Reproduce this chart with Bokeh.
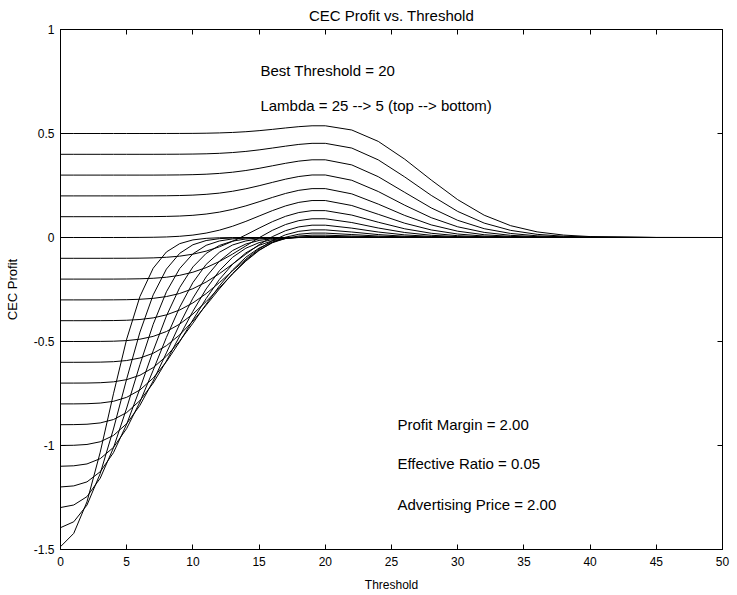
from bokeh.plotting import figure
from bokeh.models import Range1d, LinearAxis, FixedTicker, Label
from bokeh.embed import file_html
from bokeh.resources import INLINE

# ---------------- data ----------------
threshold = [0, 1, 2, 3, 4, 5, 6, 7, 8, 9, 10, 11, 12, 13, 14, 15, 16, 17, 18, 19, 20,
             22, 24, 26, 28, 30, 32, 34, 36, 38, 40, 45, 50]

lambdas = [25, 24, 23, 22, 21, 20, 19, 18, 17, 16, 15, 14, 13, 12, 11, 10, 9, 8, 7, 6, 5]

profit_l25 = [0.5, 0.5, 0.5, 0.5, 0.5, 0.5, 0.5, 0.5, 0.5001, 0.5003, 0.5006, 0.5014, 0.5028, 0.5051, 0.5086,
              0.5136, 0.5198, 0.5266, 0.5329, 0.5371, 0.5371,
              0.5168, 0.4621, 0.3765, 0.2763, 0.1819, 0.1072, 0.0568, 0.027, 0.0116, 0.0045, 0.0003, 0.0]
profit_l24 = [0.4, 0.4, 0.4, 0.4, 0.4, 0.4, 0.4, 0.4, 0.4002, 0.4005, 0.4012, 0.4024, 0.4047, 0.4085, 0.4139,
              0.4212, 0.43, 0.4392, 0.4475, 0.4527, 0.4527,
              0.43, 0.3732, 0.2911, 0.2025, 0.1254, 0.0692, 0.0342, 0.0152, 0.0061, 0.0022, 0.0001, 0.0]
profit_l23 = [0.3, 0.3, 0.3, 0.3, 0.3, 0.3, 0.3, 0.3, 0.3004, 0.3009, 0.3021, 0.3043, 0.3081, 0.3139, 0.3221,
              0.3325, 0.3446, 0.3568, 0.3672, 0.3735, 0.3735,
              0.349, 0.2923, 0.217, 0.1423, 0.0825, 0.0424, 0.0194, 0.008, 0.0029, 0.001, 0.0, 0.0]
profit_l22 = [0.2, 0.2, 0.2, 0.2, 0.2, 0.2, 0.2, 0.2003, 0.2007, 0.2017, 0.2038, 0.2075, 0.2134, 0.2223, 0.2343,
              0.2489, 0.2649, 0.2805, 0.2932, 0.3006, 0.3006,
              0.2751, 0.2211, 0.1552, 0.0953, 0.0514, 0.0245, 0.0104, 0.0039, 0.0013, 0.0004, 0.0, 0.0]
profit_l21 = [0.1, 0.1, 0.1, 0.1, 0.1, 0.1, 0.1002, 0.1005, 0.1014, 0.1032, 0.1067, 0.1127, 0.122, 0.1352, 0.1521,
              0.1719, 0.1926, 0.2118, 0.2268, 0.235, 0.235,
              0.2098, 0.1606, 0.106, 0.0606, 0.0303, 0.0133, 0.0052, 0.0018, 0.0005, 0.0001, 0.0, 0.0]
profit_l20 = [0.0, 0.0, 0.0, 0.0, 0.0, 0.0001, 0.0004, 0.0011, 0.0026, 0.0058, 0.0116, 0.0212, 0.0353, 0.0542, 0.0775,
              0.1033, 0.1291, 0.1519, 0.1688, 0.1777, 0.1777,
              0.1538, 0.1115, 0.0686, 0.0363, 0.0167, 0.0067, 0.0024, 0.0008, 0.0002, 0.0, 0.0, 0.0]
profit_l19 = [-0.1, -0.1, -0.1, -0.1, -0.0999, -0.0998, -0.0993, -0.098, -0.0951, -0.0897, -0.0802, -0.0655, -0.0448,
              -0.0183, 0.0125, 0.0451, 0.076, 0.1019, 0.1201, 0.1292, 0.1292,
              0.1078, 0.0734, 0.0418, 0.0203, 0.0086, 0.0031, 0.001, 0.0003, 0.0001, 0.0, 0.0, 0.0]
profit_l18 = [-0.2, -0.2, -0.2, -0.2, -0.1999, -0.1995, -0.1985, -0.1961, -0.1911, -0.1819, -0.1669, -0.1449, -0.1154,
              -0.0797, -0.0404, -0.0011, 0.0343, 0.0624, 0.0811, 0.09, 0.09,
              0.0719, 0.0456, 0.024, 0.0107, 0.0042, 0.0015, 0.0005, 0.0001, 0.0, 0.0, 0.0, 0.0]
profit_l17 = [-0.3, -0.3, -0.3, -0.3, -0.2997, -0.299, -0.297, -0.2926, -0.284, -0.2692, -0.2462, -0.2142, -0.1739,
              -0.1278, -0.0798, -0.0345, 0.004, 0.0329, 0.0511, 0.0592, 0.0592,
              0.045, 0.0263, 0.0126, 0.0051, 0.0018, 0.0005, 0.0002, 0.0, 0.0, 0.0, 0.0, 0.0]
profit_l16 = [-0.4, -0.4, -0.4, -0.3998, -0.3993, -0.3979, -0.3942, -0.3864, -0.372, -0.3486, -0.3145, -0.2699, -0.217,
              -0.16, -0.1042, -0.0546, -0.0149, 0.0131, 0.0297, 0.0367, 0.0367,
              0.0263, 0.014, 0.006, 0.0022, 0.0007, 0.0002, 0.0, 0.0, 0.0, 0.0, 0.0, 0.0]
profit_l15 = [-0.5, -0.5, -0.4999, -0.4996, -0.4986, -0.4957, -0.4889, -0.4754, -0.4521, -0.4165, -0.3679, -0.3082,
              -0.2419, -0.175, -0.1135, -0.0623, -0.0239, 0.0015, 0.0157, 0.0212, 0.0212,
              0.0142, 0.0069, 0.0027, 0.0009, 0.0002, 0.0001, 0.0, 0.0, 0.0, 0.0, 0.0, 0.0]
profit_l14 = [-0.6, -0.6, -0.5998, -0.5992, -0.5971, -0.5915, -0.5793, -0.5567, -0.5202, -0.4681, -0.4018, -0.3259,
              -0.2471, -0.1729, -0.1094, -0.0599, -0.0253, -0.0039, 0.0072, 0.0113, 0.0113,
              0.007, 0.003, 0.001, 0.0003, 0.0001, 0.0, 0.0, 0.0, 0.0, 0.0, 0.0, 0.0]
profit_l13 = [-0.7, -0.6999, -0.6996, -0.6982, -0.6939, -0.6834, -0.6622, -0.6256, -0.5707, -0.4981, -0.4122, -0.3209,
              -0.2329, -0.1559, -0.0947, -0.0505, -0.0217, -0.0052, 0.0027, 0.0054, 0.0054,
              0.0031, 0.0012, 0.0004, 0.0001, 0.0, 0.0, 0.0, 0.0, 0.0, 0.0, 0.0, 0.0]
profit_l12 = [-0.8, -0.7999, -0.7991, -0.796, -0.7876, -0.7684, -0.7328, -0.676, -0.5973, -0.5012, -0.3964, -0.2935,
              -0.202, -0.1281, -0.0738, -0.0376, -0.0159, -0.0044, 0.0008, 0.0024, 0.0024,
              0.0012, 0.0004, 0.0001, 0.0, 0.0, 0.0, 0.0, 0.0, 0.0, 0.0, 0.0, 0.0]
profit_l11 = [-0.9, -0.8996, -0.8978, -0.8915, -0.8752, -0.8416, -0.7841, -0.7001, -0.5936, -0.4742, -0.3548, -0.2474,
              -0.1598, -0.095, -0.0514, -0.0247, -0.01, -0.0029, 0.0, 0.0008, 0.0008,
              0.0004, 0.0001, 0.0, 0.0, 0.0, 0.0, 0.0, 0.0, 0.0, 0.0, 0.0, 0.0]
profit_l10 = [-0.9999, -0.999, -0.995, -0.9821, -0.9518, -0.8951, -0.8068, -0.6897, -0.5546, -0.417, -0.2918, -0.1895,
              -0.1137, -0.0626, -0.0314, -0.014, -0.0053, -0.0015, -0.0001, 0.0003, 0.0003,
              0.0001, 0.0, 0.0, 0.0, 0.0, 0.0, 0.0, 0.0, 0.0, 0.0, 0.0, 0.0]
profit_l9 = [-1.0998, -1.0976, -1.0887, -1.0632, -1.0092, -0.9181, -0.7906, -0.6383, -0.4802, -0.3353, -0.2167, -0.1294,
             -0.0712, -0.0359, -0.0165, -0.0068, -0.0024, -0.0007, -0.0001, 0.0, 0.0,
             0.0, 0.0, 0.0, 0.0, 0.0, 0.0, 0.0, 0.0, 0.0, 0.0, 0.0, 0.0]
profit_l8 = [-1.1993, -1.1942, -1.1749, -1.1262, -1.0346, -0.8972, -0.7262, -0.5448, -0.3773, -0.2408, -0.1415, -0.0766,
             -0.0381, -0.0173, -0.0072, -0.0027, -0.0009, -0.0002, 0.0, 0.0, 0.0,
             0.0, 0.0, 0.0, 0.0, 0.0, 0.0, 0.0, 0.0, 0.0, 0.0, 0.0, 0.0]
profit_l7 = [-1.2982, -1.286, -1.2458, -1.1572, -1.0113, -0.8197, -0.6111, -0.4174, -0.2609, -0.1494, -0.0784, -0.0377,
             -0.0167, -0.0067, -0.0025, -0.0008, -0.0002, 0.0, 0.0, 0.0, 0.0,
             0.0, 0.0, 0.0, 0.0, 0.0, 0.0, 0.0, 0.0, 0.0, 0.0, 0.0, 0.0]
profit_l6 = [-1.395, -1.3668, -1.2865, -1.1348, -0.9206, -0.6797, -0.4548, -0.2758, -0.1519, -0.0762, -0.0349, -0.0146,
             -0.0056, -0.0021, -0.0006, -0.0002, 0.0, 0.0, 0.0, 0.0, 0.0,
             0.0, 0.0, 0.0, 0.0, 0.0, 0.0, 0.0, 0.0, 0.0, 0.0, 0.0, 0.0]
profit_l5 = [-1.4865, -1.4225, -1.2709, -1.0323, -0.7515, -0.4883, -0.2836, -0.1478, -0.0695, -0.0296, -0.0115, -0.0041,
             -0.0013, -0.0004, 0.0, 0.0, 0.0, 0.0, 0.0, 0.0, 0.0,
             0.0, 0.0, 0.0, 0.0, 0.0, 0.0, 0.0, 0.0, 0.0, 0.0, 0.0, 0.0]

profits = [profit_l25, profit_l24, profit_l23, profit_l22, profit_l21, profit_l20, profit_l19,
           profit_l18, profit_l17, profit_l16, profit_l15, profit_l14, profit_l13, profit_l12,
           profit_l11, profit_l10, profit_l9, profit_l8, profit_l7, profit_l6, profit_l5]

x_ticks = [0, 5, 10, 15, 20, 25, 30, 35, 40, 45, 50]
y_ticks = [-1.5, -1.0, -0.5, 0.0, 0.5, 1.0]
y_tick_labels = ["-1.5", "-1", "-0.5", "0", "0.5", "1"]

title_text = "CEC Profit vs. Threshold"
x_label = "Threshold"
y_label = "CEC Profit"
notes_top = ["Best Threshold = 20", "Lambda = 25 --> 5 (top --> bottom)"]
notes_bottom = ["Profit Margin = 2.00", "Effective Ratio = 0.05", "Advertising Price = 2.00"]

# ---------------- figure ----------------
FONT = "Liberation Sans"

p = figure(width=736, height=594, x_range=Range1d(0, 50), y_range=Range1d(-1.5, 1),
           output_backend="svg", toolbar_location=None,
           min_border_left=60, min_border_right=14, min_border_top=29, min_border_bottom=45)

p.title.text = title_text
p.title.align = "center"
p.title.vertical_align = "top"
p.title.text_font = FONT
p.title.text_font_size = "15px"
p.title.text_font_style = "normal"
p.title.text_color = "black"
p.title.standoff = 8

p.background_fill_color = "white"
p.border_fill_color = "white"
p.outline_line_color = "black"
p.xgrid.visible = False
p.ygrid.visible = False

for vals in profits:
    p.line(threshold, vals, line_color="black", line_width=1)

def style_axis(ax, show_labels=True):
    ax.axis_line_color = "black"
    ax.major_tick_line_color = "black"
    ax.major_tick_in = 5
    ax.major_tick_out = 0
    ax.minor_tick_line_color = None
    ax.major_label_text_font = FONT
    ax.major_label_text_color = "black"
    if show_labels:
        ax.major_label_text_font_size = "12px"
    else:
        ax.major_label_text_color = None
        ax.major_label_text_font_size = "1px"
        ax.major_label_standoff = 0

xa = p.xaxis[0]
xa.ticker = FixedTicker(ticks=x_ticks)
style_axis(xa)
xa.major_label_standoff = 7
xa.axis_label = x_label
xa.axis_label_text_font = FONT
xa.axis_label_text_font_size = "12px"
xa.axis_label_text_font_style = "normal"
xa.axis_label_text_color = "black"
xa.axis_label_standoff = 9

ya = p.yaxis[0]
ya.ticker = FixedTicker(ticks=y_ticks)
ya.major_label_overrides = {t: s for t, s in zip(y_ticks, y_tick_labels)}
style_axis(ya)
ya.major_label_standoff = 6
ya.axis_label = y_label
ya.axis_label_text_font = FONT
ya.axis_label_text_font_size = "13px"
ya.axis_label_text_font_style = "normal"
ya.axis_label_text_color = "black"
ya.axis_label_standoff = 11

top_ax = LinearAxis(ticker=FixedTicker(ticks=x_ticks))
style_axis(top_ax, show_labels=False)
p.add_layout(top_ax, "above")
right_ax = LinearAxis(ticker=FixedTicker(ticks=y_ticks))
style_axis(right_ax, show_labels=False)
p.add_layout(right_ax, "right")

for txt, yv in zip(notes_top, [0.803, 0.635]):
    p.add_layout(Label(x=15.1, y=yv, text=txt, text_font=FONT, text_font_size="15px",
                       text_baseline="middle", text_align="left", text_color="black"))
for txt, yv in zip(notes_bottom, [-0.899, -1.087, -1.284]):
    p.add_layout(Label(x=25.45, y=yv, text=txt, text_font=FONT, text_font_size="15px",
                       text_baseline="middle", text_align="left", text_color="black"))

open("out.html", "w").write(file_html(p, INLINE))
